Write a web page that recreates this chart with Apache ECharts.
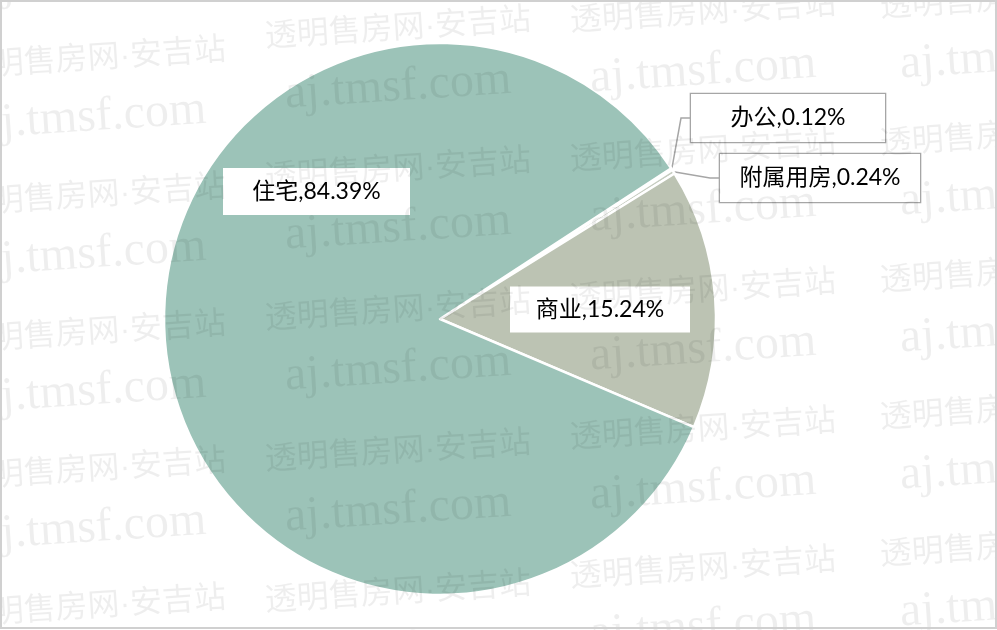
<!DOCTYPE html>
<html>
<head>
<meta charset="utf-8">
<script src="https://cdn.jsdelivr.net/npm/echarts@6/dist/echarts.min.js"></script>
<style>
html,body{margin:0;padding:0;background:#fff;}
#c{width:997px;height:630px;}
</style>
</head>
<body>
<div id="c"></div>
<script>
// ---- data ----
const categories = ['办公', '附属用房', '商业', '住宅'];
const values = [0.12, 0.24, 15.24, 84.39];

// ---- styling / layout (kept separate from data) ----
const sliceColors = ['#a9c3b9', '#c6ccc0', '#bcc3b3', '#9cc3b8'];
const labelBoxes = [
  { cx: 788, cy: 118, w: 194, h: 48, border: true, line: true },
  { cx: 820, cy: 178, w: 200, h: 48, border: true, line: true },
  { cx: 600, cy: 309.5, w: 180, h: 46, border: false, line: false },
  { cx: 316.5, cy: 191.5, w: 187, h: 47, border: false, line: false }
];
const wmCN = '透明售房网·安吉站';
const wmEN = 'aj.tmsf.com';
const wmColumns = [
  { x: -40, y0: 68, step: 137 },
  { x: 265, y0: 38, step: 141 },
  { x: 570, y0: 22, step: 139 },
  { x: 880, y0: 8, step: 137 }
];

const chart = echarts.init(document.getElementById('c'), null, { renderer: 'canvas' });

const seriesData = categories.map((name, i) => {
  const b = labelBoxes[i];
  return {
    name: name,
    value: values[i],
    itemStyle: { color: sliceColors[i] },
    label: {
      backgroundColor: '#ffffff',
      borderColor: b.border ? '#a6a6a6' : 'transparent',
      borderWidth: b.border ? 1.3 : 0,
      width: b.w,
      height: b.h,
      lineHeight: b.h
    },
    labelLine: { show: b.line }
  };
});

const graphics = [];
wmColumns.forEach(col => {
  for (let k = -1; k < 6; k++) {
    const y = col.y0 + k * col.step;
    graphics.push({
      type: 'text', x: col.x, y: y, rotation: 0.065, z: 100, silent: true,
      style: { text: wmCN, fill: 'rgba(0,0,0,0.065)', font: '32px "Liberation Sans", "Noto Sans CJK SC"', verticalAlign: 'middle', align: 'left' }
    });
    graphics.push({
      type: 'text', x: col.x + 20, y: y + 57, rotation: 0.065, z: 100, silent: true,
      style: { text: wmEN, fill: 'rgba(0,0,0,0.065)', font: '48px "Liberation Serif"', verticalAlign: 'middle', align: 'left' }
    });
  }
});
graphics.push({
  type: 'rect', z: 101, silent: true,
  shape: { x: 1, y: 1, width: 995, height: 627 },
  style: { fill: 'none', stroke: '#d0d0d0', lineWidth: 2 }
});

chart.setOption({
  backgroundColor: '#ffffff',
  animation: false,
  graphic: graphics,
  series: [{
    type: 'pie',
    center: [440, 319],
    radius: 276,
    startAngle: 33.1,
    clockwise: true,
    avoidLabelOverlap: false,
    itemStyle: { borderColor: '#ffffff', borderWidth: 2.5 },
    label: {
      show: true,
      position: 'outside',
      formatter: '{b},{c}%',
      color: '#000000',
      fontSize: 23,
      fontFamily: 'Lato, "Noto Sans CJK SC", sans-serif',
      padding: 0,
      align: 'center',
      verticalAlign: 'middle',
      overflow: 'none'
    },
    labelLine: {
      show: true,
      length: 10,
      length2: 10,
      lineStyle: { color: '#a6a6a6', width: 1.5 }
    },
    emphasis: { disabled: true },
    labelLayout: function (params) {
      const b = labelBoxes[params.dataIndex];
      const res = { x: b.cx, y: b.cy, align: 'center', verticalAlign: 'middle' };
      if (b.line && params.labelLinePoints) {
        const a = params.labelLinePoints[0];
        const left = b.cx - b.w / 2;
        res.labelLinePoints = [a, [left - 10, b.cy], [left, b.cy]];
      }
      return res;
    },
    data: seriesData
  }]
});
</script>
</body>
</html>
